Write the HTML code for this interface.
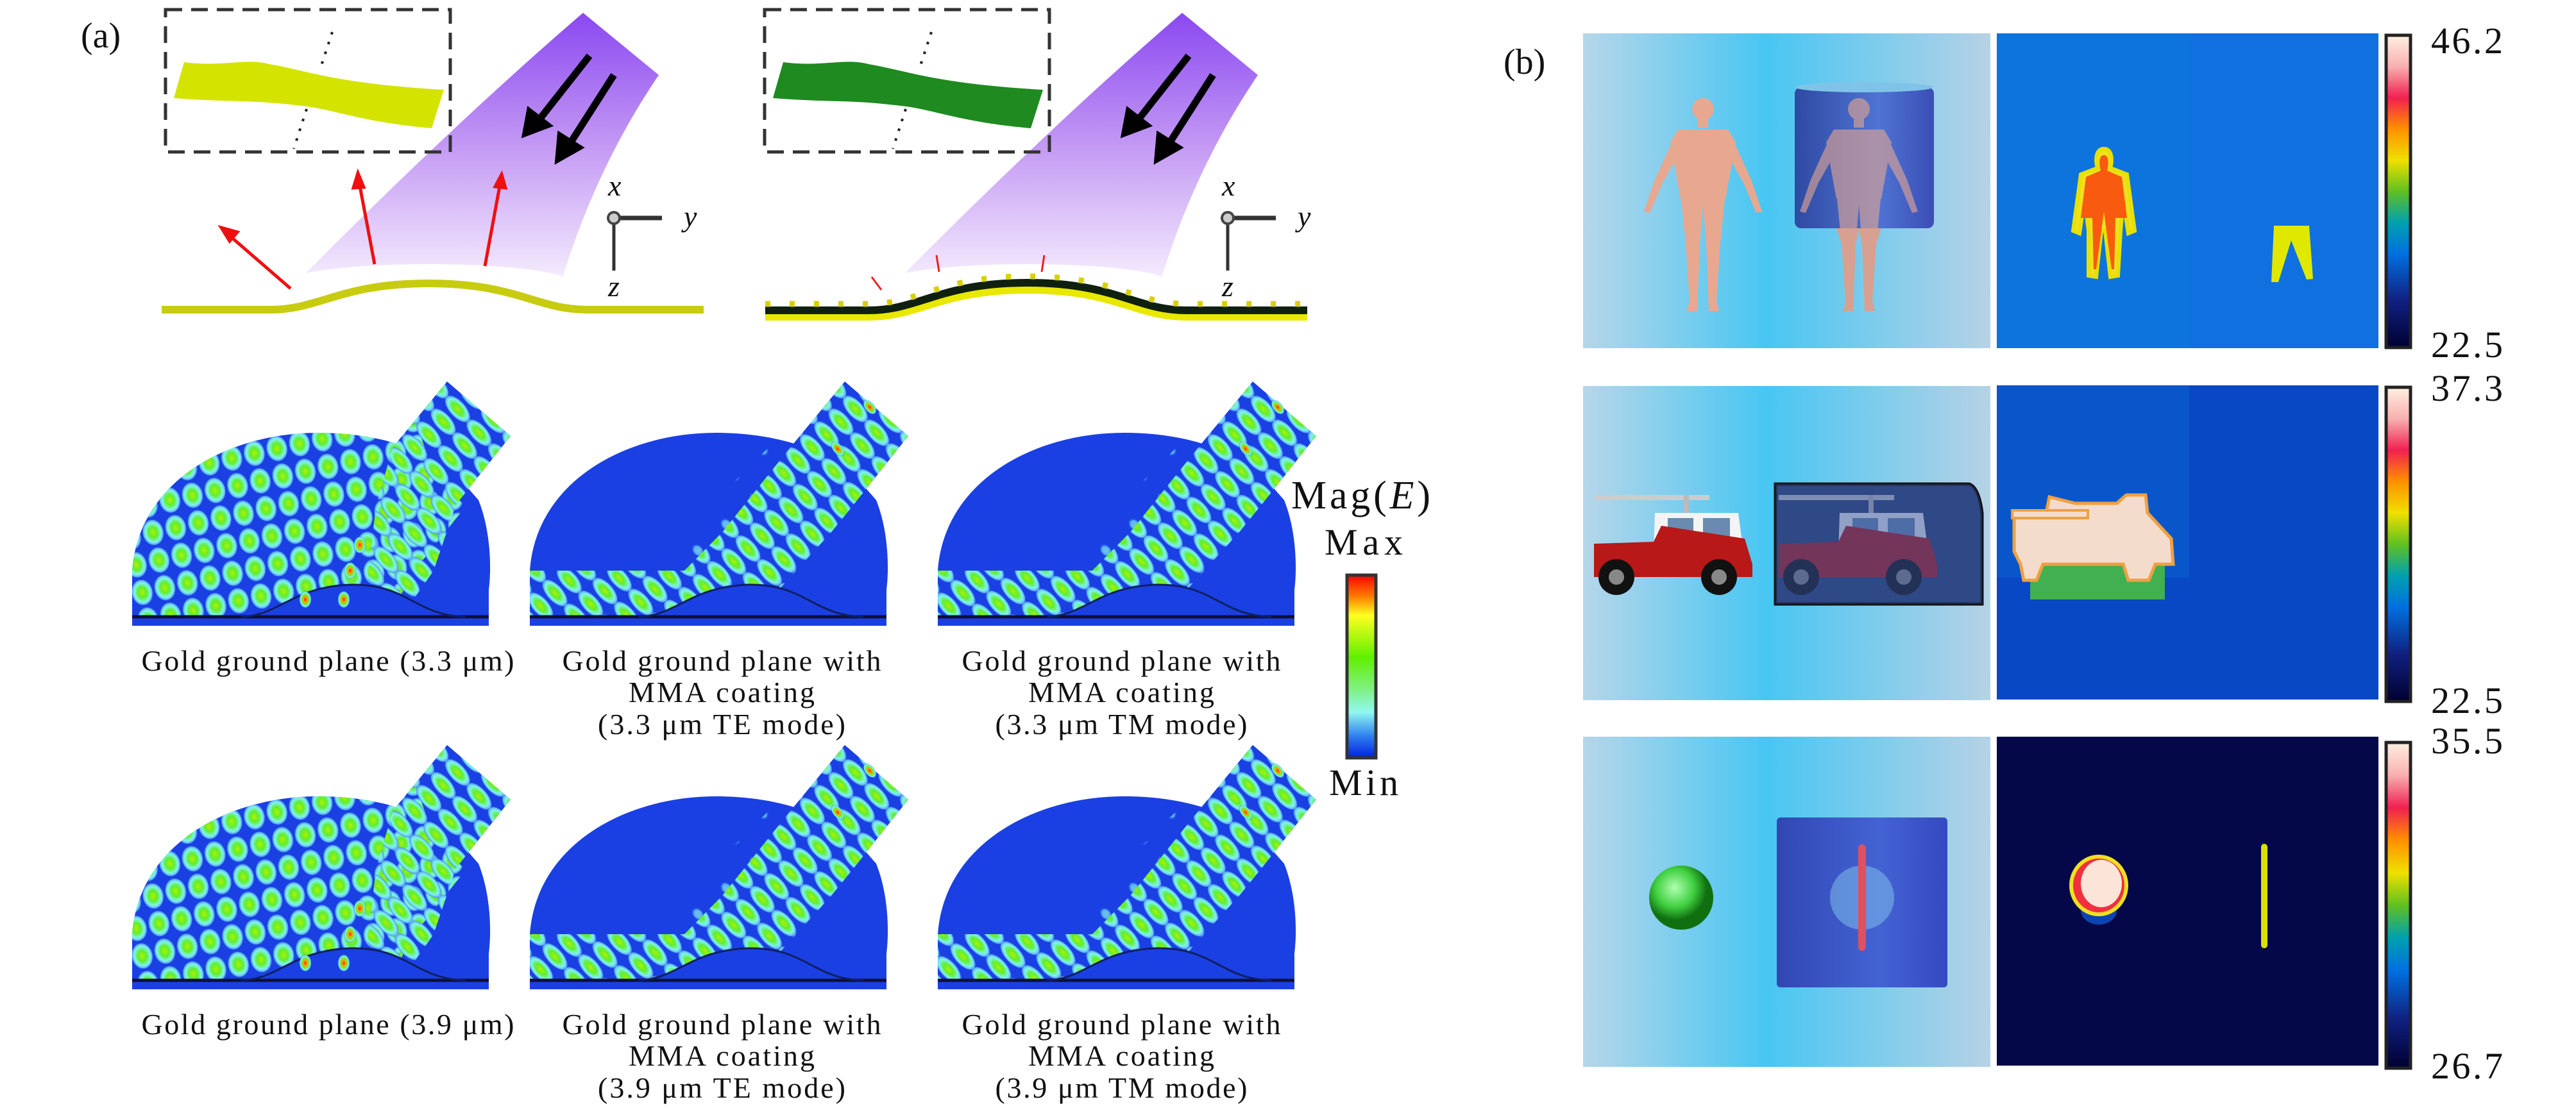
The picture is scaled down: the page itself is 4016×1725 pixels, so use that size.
<!DOCTYPE html>
<html><head><meta charset="utf-8"><style>
html,body{margin:0;padding:0;background:#fff;}
svg{display:block}
.t{font-family:"Liberation Serif",serif;fill:#111}
</style></head><body>
<svg width="4016" height="1725" viewBox="0 0 4016 1725" xmlns="http://www.w3.org/2000/svg">
<defs>
 <linearGradient id="beam" x1="0" y1="0" x2="0" y2="1">
  <stop offset="0" stop-color="#8a48f0"/><stop offset="0.5" stop-color="#c49af4"/><stop offset="1" stop-color="#f6eefe"/>
 </linearGradient>
 <radialGradient id="blob">
  <stop offset="0" stop-color="#b0f000"/><stop offset="0.4" stop-color="#60ee30"/><stop offset="0.72" stop-color="#80f4f0"/><stop offset="0.9" stop-color="#60b0f4"/><stop offset="1" stop-color="#1a3fe6" stop-opacity="0"/>
 </radialGradient>
 <radialGradient id="blobC">
  <stop offset="0" stop-color="#a0f8e8"/><stop offset="0.6" stop-color="#70e8f8"/><stop offset="1" stop-color="#1a3fe6" stop-opacity="0"/>
 </radialGradient>
 <radialGradient id="blobR">
  <stop offset="0" stop-color="#ff2000"/><stop offset="0.3" stop-color="#ffa000"/><stop offset="0.55" stop-color="#70ee30"/><stop offset="0.8" stop-color="#80f4f0"/><stop offset="1" stop-color="#1a3fe6" stop-opacity="0"/>
 </radialGradient>
 <pattern id="waves" width="30" height="50" patternUnits="userSpaceOnUse" patternTransform="rotate(-42)">
  <ellipse cx="15" cy="25" rx="13" ry="27" fill="url(#blob)"/>
 </pattern>
 <pattern id="wavesC" width="60" height="50" patternUnits="userSpaceOnUse" patternTransform="rotate(-42)">
  <ellipse cx="15" cy="25" rx="9" ry="12" fill="url(#blobC)"/>
 </pattern>
 <pattern id="grid" width="36" height="44" patternUnits="userSpaceOnUse" patternTransform="rotate(-12)">
  <ellipse cx="18" cy="22" rx="17" ry="21" fill="url(#blob)"/>
 </pattern>
 <linearGradient id="lp" x1="0" y1="0" x2="1" y2="0">
  <stop offset="0" stop-color="#b6d6ea"/><stop offset="0.45" stop-color="#48c6f2"/><stop offset="1" stop-color="#b6d2e6"/>
 </linearGradient>
 <linearGradient id="cb" x1="0" y1="0" x2="0" y2="1">
  <stop offset="0" stop-color="#fff0e0"/><stop offset="0.1" stop-color="#f8b0b0"/><stop offset="0.2" stop-color="#f02050"/><stop offset="0.3" stop-color="#ff9000"/><stop offset="0.4" stop-color="#f0e000"/><stop offset="0.5" stop-color="#60c020"/><stop offset="0.6" stop-color="#00a0b0"/><stop offset="0.7" stop-color="#0070e0"/><stop offset="0.85" stop-color="#102080"/><stop offset="1" stop-color="#000030"/>
 </linearGradient>
 <linearGradient id="cba" x1="0" y1="0" x2="0" y2="1">
  <stop offset="0" stop-color="#ff0000"/><stop offset="0.12" stop-color="#ff8000"/><stop offset="0.22" stop-color="#ffff20"/><stop offset="0.45" stop-color="#60f000"/><stop offset="0.62" stop-color="#80f080"/><stop offset="0.75" stop-color="#90f8f0"/><stop offset="0.88" stop-color="#3080f0"/><stop offset="1" stop-color="#0020e0"/>
 </linearGradient>
 <linearGradient id="cyl" x1="0" y1="0" x2="1" y2="0">
  <stop offset="0" stop-color="#2a3c9a"/><stop offset="0.6" stop-color="#4a6ad0"/><stop offset="1" stop-color="#3040b0"/>
 </linearGradient>
 <radialGradient id="sph" cx="0.4" cy="0.35">
  <stop offset="0" stop-color="#b0ffb0"/><stop offset="0.6" stop-color="#40d040"/><stop offset="1" stop-color="#107010"/>
 </radialGradient>
 <clipPath id="domeClip"><path d="M0,386 L0,300 C10,160 150,85 290,85 C400,85 470,120 505,150 L540,190 C560,240 560,300 556,330 L556,386 Z M406,108 L491,5 L590,90 L505,197 Z"/></clipPath>
 <clipPath id="gridClip"><path d="M0,386 L0,0 L420,0 L470,150 L520,200 L440,300 L400,372 L0,372 Z"/></clipPath>
 <clipPath id="bandClip"><path d="M491,5 L590,90 L505,197 L470,240 L350,372 L170,372 L300,240 L406,108 Z M0,300 L250,300 L250,372 L0,372 Z"/></clipPath>
 <g id="mapBase">
  <path d="M0,386 L0,300 C10,160 150,85 290,85 C400,85 470,120 505,150 L540,190 C560,240 560,300 556,330 L556,386 Z" fill="#1a40e4"/>
  <path d="M406,108 L491,5 L590,90 L505,197 Z" fill="#1a40e4"/>
 </g>
 <g id="mapBottom">
  <path d="M0,372 L170,372 C230,370 250,325 340,322 C430,320 440,370 556,372 L556,386 L0,386 Z" fill="#1a40e4"/>
  <line x1="0" y1="372" x2="556" y2="372" stroke="#101030" stroke-width="5"/>
  <path d="M170,372 C230,370 250,325 340,322 C430,320 440,370 520,372" fill="none" stroke="#102060" stroke-width="3"/>
 </g>
 <g id="map1">
  <use href="#mapBase"/>
  <g clip-path="url(#domeClip)">
   <g clip-path="url(#gridClip)"><rect x="0" y="0" width="600" height="390" fill="url(#grid)"/></g>
   <path d="M491,5 L590,90 L505,197 L406,108 Z" fill="url(#waves)"/>
   <path d="M406,108 L505,197 L470,300 L420,372 L360,372 L380,200 Z" fill="url(#waves)"/>
  </g>
  <use href="#mapBottom"/>
  <ellipse cx="270" cy="345" rx="10" ry="14" fill="url(#blobR)"/>
  <ellipse cx="330" cy="345" rx="10" ry="14" fill="url(#blobR)"/>
  <ellipse cx="340" cy="300" rx="10" ry="14" fill="url(#blobR)"/>
  <ellipse cx="355" cy="260" rx="10" ry="14" fill="url(#blobR)"/>
 </g>
 <g id="map2">
  <use href="#mapBase"/>
  <g clip-path="url(#domeClip)">
   <path d="M380,100 L150,330 L260,372 L420,200 Z" fill="url(#wavesC)" opacity="0.7"/>
   <g clip-path="url(#bandClip)"><rect x="0" y="0" width="600" height="390" fill="url(#waves)"/></g>
  </g>
  <use href="#mapBottom"/>
  <ellipse cx="530" cy="45" rx="8" ry="14" fill="url(#blobR)" transform="rotate(-40 530 45)"/>
  <ellipse cx="480" cy="110" rx="8" ry="14" fill="url(#blobR)" transform="rotate(-40 480 110)"/>
 </g>
</defs>

<text class="t" x="126" y="74" font-size="56">(a)</text>

<g id="schemL">
 <path d="M909,20 L1027,117 Q930,260 877,433 Q680,400 463,440 Q700,200 909,20 Z" fill="url(#beam)"/>
 <ellipse cx="668" cy="440" rx="220" ry="28" fill="#fff"/>
 <rect x="258" y="15" width="444" height="222" fill="none" stroke="#333" stroke-width="5" stroke-dasharray="26,14"/>
 <path d="M287,97 C350,105 380,90 420,100 C480,110 520,130 692,140 L673,200 C560,190 520,170 470,165 C390,155 360,160 271,153 Z" fill="#d4e400"/>
 <line x1="518" y1="50" x2="500" y2="105" stroke="#222" stroke-width="4" stroke-dasharray="4,12"/>
 <line x1="478" y1="170" x2="458" y2="232" stroke="#222" stroke-width="4" stroke-dasharray="4,12"/>
 <path d="M252,483 L420,483 C500,483 530,442 668,442 C806,442 836,483 916,483 L1097,483" fill="none" stroke="#c8cc10" stroke-width="12"/>
 <g stroke="#ee1010" stroke-width="5" fill="#ee1010">
  <line x1="453" y1="450" x2="355" y2="365"/><polygon points="345,355 370,362 358,376"/>
  <line x1="584" y1="412" x2="560" y2="285"/><polygon points="558,270 567,292 551,293"/>
  <line x1="756" y1="415" x2="780" y2="285"/><polygon points="782,272 788,293 772,291"/>
 </g>
 <g stroke="#000" stroke-width="11" fill="#000">
  <line x1="919" y1="87" x2="838" y2="190"/><polygon points="820,207 826,175 852,195"/>
  <line x1="957" y1="117" x2="886" y2="228"/><polygon points="871,247 874,213 901,230"/>
 </g>
</g>
<g transform="translate(934,0)">
 <path d="M909,20 L1027,117 Q930,260 877,433 Q680,400 463,440 Q700,200 909,20 Z" fill="url(#beam)"/>
 <ellipse cx="668" cy="440" rx="220" ry="28" fill="#fff"/>
 <rect x="258" y="15" width="444" height="222" fill="none" stroke="#333" stroke-width="5" stroke-dasharray="26,14"/>
 <path d="M287,97 C350,105 380,90 420,100 C480,110 520,130 692,140 L673,200 C560,190 520,170 470,165 C390,155 360,160 271,153 Z" fill="#1f8a1f"/>
 <line x1="518" y1="50" x2="500" y2="105" stroke="#222" stroke-width="4" stroke-dasharray="4,12"/>
 <line x1="478" y1="170" x2="458" y2="232" stroke="#222" stroke-width="4" stroke-dasharray="4,12"/>
 <path d="M259,490 L420,490 C500,490 530,448 668,448 C806,448 836,490 916,490 L1104,490" fill="none" stroke="#e8e800" stroke-width="20"/>
 <path d="M259,484 L420,484 C500,484 530,441 668,441 C806,441 836,484 916,484 L1104,484" fill="none" stroke="#102010" stroke-width="12"/>
 <path d="M259,474 L420,474 C500,474 530,431 668,431 C806,431 836,474 916,474 L1104,474" fill="none" stroke="#d8d000" stroke-width="9" stroke-dasharray="8,30"/>
 <g stroke="#ee2020" stroke-width="3">
  <line x1="440" y1="452" x2="425" y2="432"/>
  <line x1="530" y1="424" x2="526" y2="398"/>
  <line x1="690" y1="424" x2="694" y2="398"/>
 </g>
 <g stroke="#000" stroke-width="11" fill="#000">
  <line x1="919" y1="87" x2="838" y2="190"/><polygon points="820,207 826,175 852,195"/>
  <line x1="957" y1="117" x2="886" y2="228"/><polygon points="871,247 874,213 901,230"/>
 </g>
</g>

<g id="axL">
 <line x1="957" y1="340" x2="1032" y2="340" stroke="#333" stroke-width="7"/>
 <line x1="957" y1="340" x2="957" y2="422" stroke="#333" stroke-width="5"/>
 <circle cx="957" cy="340" r="9" fill="#ccc" stroke="#444" stroke-width="4"/>
 <text class="t" x="948" y="305" font-size="46" font-style="italic">x</text>
 <text class="t" x="1066" y="353" font-size="46" font-style="italic">y</text>
 <text class="t" x="948" y="462" font-size="46" font-style="italic">z</text>
</g>
<use href="#axL" transform="translate(957,0)"/>

<use href="#map1" x="206" y="590"/>
<use href="#map2" x="826" y="590"/>
<use href="#map2" x="1462" y="590"/>
<use href="#map1" x="206" y="1157"/>
<use href="#map2" x="826" y="1157"/>
<use href="#map2" x="1462" y="1157"/>

<g class="t" font-size="46" text-anchor="middle">
 <text x="511" y="1046" textLength="581">Gold ground plane (3.3 μm)</text>
 <text x="1125" y="1046" textLength="497">Gold ground plane with</text>
 <text x="1125" y="1095" textLength="290">MMA coating</text>
 <text x="1125" y="1145" textLength="386">(3.3 μm TE mode)</text>
 <text x="1748" y="1046" textLength="497">Gold ground plane with</text>
 <text x="1748" y="1095" textLength="290">MMA coating</text>
 <text x="1748" y="1145" textLength="393">(3.3 μm TM mode)</text>
 <text x="511" y="1613" textLength="581">Gold ground plane (3.9 μm)</text>
 <text x="1125" y="1613" textLength="497">Gold ground plane with</text>
 <text x="1125" y="1662" textLength="290">MMA coating</text>
 <text x="1125" y="1712" textLength="386">(3.9 μm TE mode)</text>
 <text x="1748" y="1613" textLength="497">Gold ground plane with</text>
 <text x="1748" y="1662" textLength="290">MMA coating</text>
 <text x="1748" y="1712" textLength="393">(3.9 μm TM mode)</text>
</g>

<text class="t" x="2013" y="793" font-size="62" textLength="217">Mag(<tspan font-style="italic">E</tspan>)</text>
<text class="t" x="2065" y="865" font-size="58" textLength="122">Max</text>
<rect x="2100" y="897" width="45" height="285" fill="url(#cba)" stroke="#333" stroke-width="5"/>
<text class="t" x="2072" y="1240" font-size="58" textLength="108">Min</text>

<text class="t" x="2344" y="115" font-size="56">(b)</text>

<rect x="2468" y="52" width="635" height="491" fill="url(#lp)"/>
<rect x="2468" y="602" width="635" height="490" fill="url(#lp)"/>
<rect x="2468" y="1149" width="635" height="515" fill="url(#lp)"/>

<g id="human" fill="#e8a890">
 <circle cx="2655" cy="170" r="17"/>
 <rect x="2647" y="185" width="16" height="14"/>
 <path d="M2616,202 L2694,202 L2706,222 L2690,310 L2620,310 L2604,222 Z"/>
 <path d="M2612,210 L2580,280 L2563,330 L2572,332 L2592,285 L2622,232 Z"/>
 <path d="M2698,210 L2730,280 L2747,330 L2738,332 L2718,285 L2688,232 Z"/>
 <path d="M2620,300 L2690,300 L2682,380 L2676,470 L2680,485 L2664,485 L2660,380 L2655,320 L2650,380 L2646,485 L2630,485 L2634,470 L2628,380 Z"/>
</g>
<rect x="2798" y="136" width="217" height="220" rx="10" fill="url(#cyl)" opacity="0.9"/>
<ellipse cx="2906" cy="136" rx="108" ry="8" fill="#7fc4e8"/>
<use href="#human" transform="translate(243,0)" opacity="0.6"/>
<g transform="translate(243,0)" fill="#d8a090"><path d="M2620,356 L2690,356 L2682,380 L2676,470 L2680,485 L2664,485 L2660,380 L2655,358 L2650,380 L2646,485 L2630,485 L2634,470 L2628,380 Z"/></g>

<g id="jeep">
 <rect x="2485" y="772" width="180" height="8" fill="#ccc"/>
 <rect x="2625" y="772" width="8" height="30" fill="#bbb"/>
 <path d="M2580,800 L2710,800 L2718,860 L2578,862 Z" fill="#f4f4f4"/>
 <rect x="2600" y="808" width="40" height="32" fill="#6a8ab0"/>
 <rect x="2655" y="808" width="42" height="40" fill="#6a8ab0"/>
 <path d="M2485,848 L2578,845 L2590,820 L2720,840 L2732,880 L2732,900 L2485,900 Z" fill="#b81818"/>
 <circle cx="2520" cy="900" r="28" fill="#111"/><circle cx="2520" cy="900" r="12" fill="#888"/>
 <circle cx="2680" cy="900" r="28" fill="#111"/><circle cx="2680" cy="900" r="12" fill="#888"/>
</g>
<path d="M2768,755 L3070,755 Q3085,760 3090,800 L3090,942 L2768,942 Z" fill="#2a4070" stroke="#111" stroke-width="5"/>
<g transform="translate(288,0)" opacity="0.75"><use href="#jeep"/></g>
<path d="M2768,755 L3070,755 Q3085,760 3090,800 L3090,942 L2768,942 Z" fill="#3a5ab0" opacity="0.35"/>

<circle cx="2621" cy="1400" r="50" fill="url(#sph)"/>
<rect x="2770" y="1275" width="266" height="265" rx="6" fill="#3a58d8"/>
<rect x="2770" y="1275" width="266" height="265" rx="6" fill="url(#cyl)" opacity="0.6"/>
<circle cx="2903" cy="1400" r="50" fill="#7ab4e8" opacity="0.6"/>
<rect x="2897" y="1317" width="12" height="166" rx="6" fill="#e05060"/>

<rect x="3113" y="52" width="595" height="491" fill="#1070e0"/>
<rect x="3113" y="52" width="300" height="491" fill="#0a78dc" opacity="0.5"/>
<g>
 <path d="M3280,232 C3292,232 3294,248 3290,262 L3316,272 L3328,360 L3318,364 L3310,310 L3306,360 L3302,430 L3290,432 L3282,360 L3276,360 L3268,432 L3256,430 L3256,360 L3250,310 L3242,364 L3232,360 L3244,272 L3270,262 C3266,248 3268,232 3280,232 Z" fill="#f0e020" stroke="#e8e000" stroke-width="6"/>
 <path d="M3280,242 C3288,242 3288,255 3285,266 L3308,276 L3316,340 L3298,340 L3296,420 L3292,420 L3280,330 L3268,420 L3264,420 L3262,340 L3244,340 L3252,276 L3275,266 C3272,255 3272,242 3280,242 Z" fill="#f85a10"/>
 <path d="M3545,352 L3600,352 L3606,435 L3596,436 L3572,375 L3552,440 L3541,440 Z" fill="#e0e800"/>
</g>
<rect x="3113" y="601" width="595" height="490" fill="#0848c4"/>
<rect x="3113" y="601" width="300" height="300" fill="#0a60d0" opacity="0.6"/>
<rect x="3165" y="860" width="210" height="75" fill="#40b050"/>
<path d="M3140,800 L3190,800 L3195,775 L3235,785 L3300,785 L3315,772 L3345,772 L3348,800 L3385,840 L3388,880 L3360,880 L3350,905 L3318,905 L3310,880 L3185,880 L3175,905 L3155,905 L3150,880 L3140,860 Z" fill="#f4dccc" stroke="#f0a040" stroke-width="5"/>
<rect x="3137" y="796" width="118" height="12" fill="#f4dccc" stroke="#f0a040" stroke-width="4"/>
<rect x="3113" y="1149" width="595" height="513" fill="#040848"/>
<ellipse cx="3272" cy="1420" rx="28" ry="22" fill="#1060e0" opacity="0.7"/>
<ellipse cx="3272" cy="1381" rx="46" ry="48" fill="#f0e020"/>
<ellipse cx="3272" cy="1381" rx="40" ry="42" fill="#f03040"/>
<ellipse cx="3276" cy="1378" rx="32" ry="37" fill="#fbe4d8"/>
<rect x="3525" y="1316" width="10" height="163" rx="5" fill="#d8e000"/>

<rect x="3720" y="55" width="38" height="487" fill="url(#cb)" stroke="#222" stroke-width="5"/>
<rect x="3720" y="604" width="38" height="490" fill="url(#cb)" stroke="#222" stroke-width="5"/>
<rect x="3720" y="1158" width="38" height="508" fill="url(#cb)" stroke="#222" stroke-width="5"/>
<g class="t" font-size="58">
 <text x="3790" y="83" textLength="112">46.2</text>
 <text x="3790" y="557" textLength="112">22.5</text>
 <text x="3790" y="625" textLength="112">37.3</text>
 <text x="3790" y="1112" textLength="112">22.5</text>
 <text x="3790" y="1175" textLength="112">35.5</text>
 <text x="3790" y="1682" textLength="112">26.7</text>
</g>
</svg>
</body></html>
